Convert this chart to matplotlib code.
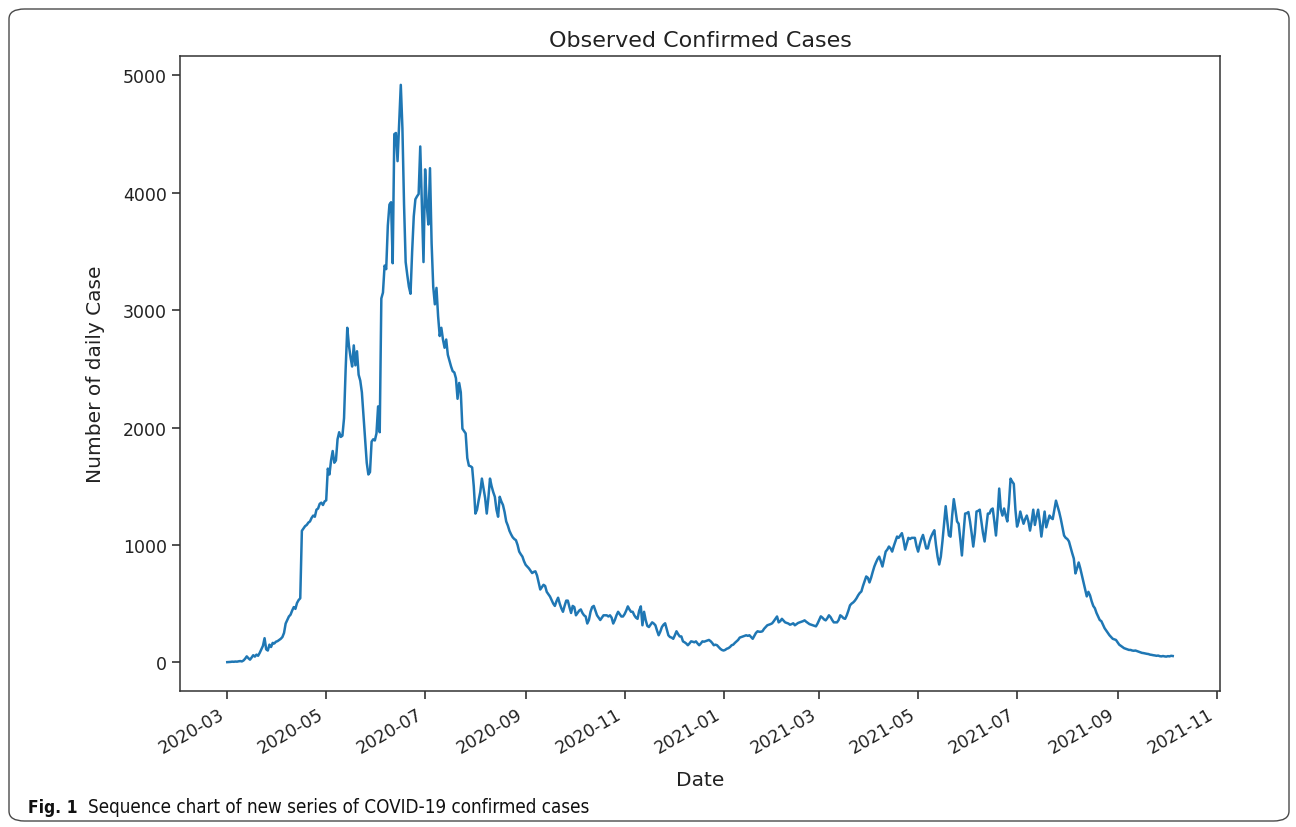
import matplotlib
matplotlib.use("Agg")
import matplotlib.pyplot as plt
import matplotlib.dates as mdates
from matplotlib.patches import FancyBboxPatch
import pandas as pd

start_date = "2020-03-01"
daily_cases = [
    1, 2, 3, 5, 4, 6, 5, 8, 10, 7,
    15, 30, 50, 35, 22, 40, 60, 48, 65, 55,
    80, 110, 140, 205, 110, 100, 150, 130, 165, 160,
    175, 180, 190, 200, 215, 250, 330, 360, 390, 405,
    440, 470, 455, 505, 530, 545, 1120, 1140, 1160, 1170,
    1190, 1200, 1230, 1250, 1240, 1300, 1310, 1350, 1360, 1340,
    1370, 1380, 1650, 1600, 1720, 1800, 1700, 1720, 1900, 1960,
    1920, 1930, 2080, 2500, 2850, 2700, 2600, 2520, 2700, 2530,
    2650, 2450, 2400, 2300, 2100, 1900, 1700, 1600, 1620, 1880,
    1900, 1890, 1950, 2180, 1960, 3100, 3150, 3380, 3350, 3720,
    3900, 3920, 3400, 4500, 4510, 4270, 4600, 4920, 4550, 3900,
    3410, 3300, 3200, 3140, 3500, 3800, 3945, 3970, 3990, 4395,
    3900, 3410, 4200, 3900, 3730, 4210, 3570, 3200, 3050, 3190,
    2950, 2780, 2850, 2750, 2680, 2750, 2620, 2570, 2520, 2480,
    2470, 2420, 2245, 2380, 2300, 1990, 1970, 1950, 1740, 1675,
    1670, 1660, 1500, 1267, 1300, 1380, 1450, 1565, 1480, 1400,
    1267, 1400, 1565, 1500, 1450, 1410, 1300, 1240, 1410, 1370,
    1340, 1280, 1200, 1165, 1120, 1090, 1065, 1050, 1040, 1000,
    943, 920, 900, 860, 830, 815, 800, 780, 760, 770,
    775, 740, 680, 620, 640, 660, 650, 600, 580, 560,
    530, 500, 480, 520, 550, 500, 460, 430, 480, 525,
    525, 470, 420, 480, 470, 400, 420, 440, 450, 420,
    400, 390, 330, 360, 430, 470, 480, 440, 400, 380,
    360, 380, 400, 400, 400, 390, 400, 380, 330, 360,
    400, 430, 410, 390, 390, 410, 440, 476, 450, 430,
    430, 400, 380, 370, 440, 476, 315, 430, 360, 310,
    300, 320, 340, 330, 315, 270, 230, 260, 300, 320,
    332, 280, 230, 215, 210, 200, 230, 264, 240, 220,
    220, 178, 170, 160, 145, 160, 178, 175, 170, 178,
    160, 145, 160, 178, 175, 180, 185, 190, 180, 165,
    145, 150, 145, 130, 115, 105, 100, 105, 115, 120,
    130, 145, 150, 165, 178, 190, 210, 215, 220, 225,
    230, 225, 230, 215, 200, 225, 250, 264, 260, 260,
    264, 285, 300, 315, 320, 325, 332, 350, 370, 390,
    340, 350, 370, 355, 340, 335, 330, 320, 325, 332,
    315, 325, 335, 340, 345, 350, 357, 345, 335, 325,
    320, 315, 310, 306, 330, 360, 391, 380, 365, 357,
    375, 400, 385, 360, 340, 340, 340, 360, 400, 390,
    375, 370, 400, 440, 485, 500, 510, 525, 545, 570,
    590, 603, 650, 690, 731, 720, 680, 720, 770, 816,
    850, 880, 900, 860, 816, 880, 943, 960, 986, 970,
    943, 990, 1030, 1071, 1060, 1080, 1100, 1040, 960, 1010,
    1060, 1050, 1060, 1060, 1060, 990, 943, 1000, 1050, 1085,
    1030, 970, 970, 1030, 1070, 1100, 1125, 1000, 900, 833,
    900, 1030, 1180, 1330, 1200, 1080, 1070, 1250, 1390, 1300,
    1200, 1180, 1050, 910, 1100, 1267, 1270, 1280, 1200, 1100,
    986, 1100, 1284, 1290, 1300, 1200, 1100, 1029, 1150, 1267,
    1267, 1300, 1310, 1200, 1080, 1250, 1480, 1300, 1250, 1310,
    1250, 1200, 1350, 1565, 1540, 1520, 1300, 1156, 1200, 1284,
    1230, 1180, 1220, 1250, 1200, 1122, 1200, 1300, 1170, 1240,
    1300, 1200, 1071, 1180, 1284, 1150, 1200, 1250, 1230, 1220,
    1300, 1377, 1330, 1280, 1220, 1150, 1080, 1060, 1050, 1030,
    980, 930, 884, 757, 800, 850, 800, 740, 680, 620,
    561, 600, 570, 520, 480, 460, 420, 390, 360, 350,
    320, 290, 270, 250, 230, 215, 200, 195, 190, 170,
    150, 140, 130, 120, 115, 110, 105, 105, 100, 98,
    100, 95, 90, 85, 80, 78, 75, 72, 70, 65,
    63, 60, 58, 55, 57, 52, 50, 53, 50, 48,
    52, 50, 55, 53,
]
title_text = "Observed Confirmed Cases"
x_label = "Date"
y_label = "Number of daily Case"
y_ticks = [0, 1000, 2000, 3000, 4000, 5000]
caption_bold = "Fig. 1"
caption_text = "Sequence chart of new series of COVID-19 confirmed cases"

dates = pd.date_range(start_date, periods=len(daily_cases), freq="D")

W, H = 1296, 828
fig = plt.figure(figsize=(W / 100, H / 100), dpi=100)
fig.patch.set_facecolor("white")

# outer rounded frame
frame = FancyBboxPatch((9 / W, 6 / H), 1280 / W, 812 / H,
                       boxstyle="round,pad=0,rounding_size=0.012",
                       transform=fig.transFigure, facecolor="none",
                       edgecolor="#4a4a4a", linewidth=1.0, zorder=0)
fig.patches.append(frame)

ax = fig.add_axes([180 / W, 1 - 692 / H, (1220 - 180) / W, (692 - 57) / H])
ax.plot(dates, daily_cases, color="#1f77b4", linewidth=1.8)

txt = "#222222"
ax.set_title(title_text, fontsize=16, color=txt, pad=7)
ax.set_xlabel(x_label, fontsize=14.5, color=txt, labelpad=10)
ax.set_ylabel(y_label, fontsize=14.5, color=txt, labelpad=13)
ax.set_yticks(y_ticks)
ax.xaxis.set_major_locator(mdates.MonthLocator(bymonth=[1, 3, 5, 7, 9, 11]))
ax.xaxis.set_major_formatter(mdates.DateFormatter("%Y-%m"))
ax.tick_params(axis="both", labelsize=12.5, colors=txt, length=6, width=1.1)
for lab in ax.get_xticklabels():
    lab.set_rotation(30)
    lab.set_ha("right")
for s in ax.spines.values():
    s.set_color("#333333")
    s.set_linewidth(1.1)

fig.text(28 / W, 1 - 808 / H, caption_bold, fontsize=12.5, fontweight="bold",
         family="DejaVu Sans", fontstretch="condensed",
         va="center", ha="left", color="#111111")
fig.text(88 / W, 1 - 808 / H, caption_text, fontsize=13.5,
         family="DejaVu Sans", fontstretch="condensed",
         va="center", ha="left", color="#111111")

fig.savefig("out.png", dpi=100, facecolor="white")
